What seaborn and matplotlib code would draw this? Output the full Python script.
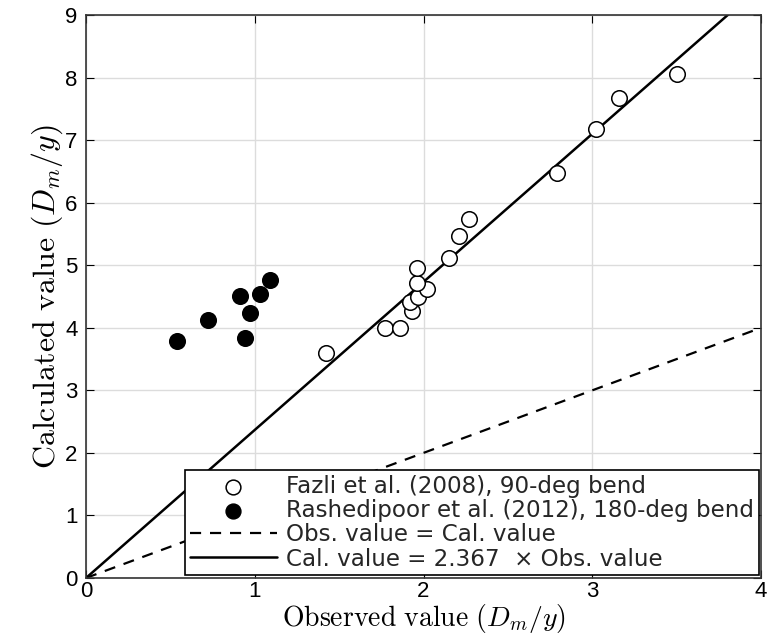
import numpy as np
import pandas as pd
import matplotlib
matplotlib.use("Agg")
import matplotlib.pyplot as plt
import seaborn as sns

# Observed vs calculated scour depth (D_m / y)
fazli_obs = [1.42, 1.77, 1.86, 1.93, 1.92, 1.97, 2.02, 1.96, 1.96, 2.15, 2.21, 2.27, 2.79, 3.02, 3.16, 3.50]
fazli_cal = [3.60, 4.00, 3.99, 4.27, 4.42, 4.49, 4.62, 4.72, 4.96, 5.12, 5.47, 5.74, 6.48, 7.18, 7.68, 8.06]
rashedi_obs = [0.54, 0.72, 0.94, 0.97, 0.91, 1.03, 1.09]
rashedi_cal = [3.79, 4.13, 3.83, 4.24, 4.50, 4.54, 4.77]
slope = 2.367
x_ticks = [0, 1, 2, 3, 4]
y_ticks = [0, 1, 2, 3, 4, 5, 6, 7, 8, 9]

label_fazli = "Fazli et al. (2008), 90-deg bend"
label_rashedi = "Rashedipoor et al. (2012), 180-deg bend"
label_equal = "Obs. value = Cal. value"
label_fit = "Cal. value = 2.367  \u00d7 Obs. value"

sns.set_theme(style="whitegrid")
plt.rcParams["font.family"] = ["Liberation Sans", "DejaVu Sans"]
plt.rcParams["mathtext.fontset"] = "cm"

fig = plt.figure(figsize=(7.68, 6.39), dpi=100)
ax = fig.add_axes([0.112, 0.0955, 0.879, 0.881])

df = pd.DataFrame({
    "obs": fazli_obs + rashedi_obs,
    "cal": fazli_cal + rashedi_cal,
    "source": [label_fazli] * len(fazli_obs) + [label_rashedi] * len(rashedi_obs),
})

sns.scatterplot(data=df[df.source == label_fazli], x="obs", y="cal", ax=ax,
                s=125, marker="o", facecolor="white", edgecolor="black",
                linewidth=1.1, label=label_fazli, zorder=3)
sns.scatterplot(data=df[df.source == label_rashedi], x="obs", y="cal", ax=ax,
                s=125, marker="o", color="black", edgecolor="black",
                linewidth=1.1, label=label_rashedi, zorder=3)

line_x = np.array([0.0, 4.0])
sns.lineplot(x=line_x, y=line_x, ax=ax, color="black", linestyle=(0, (5, 4)),
             linewidth=1.6, label=label_equal)
sns.lineplot(x=line_x, y=slope * line_x, ax=ax, color="black", linestyle="-",
             linewidth=1.8, label=label_fit)

ax.set_xlim(0, 4)
ax.set_ylim(0, 9)
ax.set_xticks(x_ticks)
ax.set_yticks(y_ticks)
ax.tick_params(axis="both", which="both", direction="in", length=6, width=0.8,
               labelsize=16, colors="black", top=True, right=True, pad=2,
               left=True, bottom=True)
ax.tick_params(axis="y", pad=6)
ax.grid(True, color="#dcdcdc", linewidth=1.0)
for sp in ax.spines.values():
    sp.set_visible(True)
    sp.set_color("#333333")
    sp.set_linewidth(1.2)

ax.set_xlabel(r"$\mathrm{Observed\ value}\ (D_m/y)$", fontsize=20, labelpad=0.5, color="black")
ax.set_ylabel(r"$\mathrm{Calculated\ value}\ (D_m/y)$", fontsize=23, labelpad=0, color="black")

leg = ax.legend(loc="lower right", bbox_to_anchor=(0.997, 0.005), borderaxespad=0,
                prop={"family": ["DejaVu Sans"], "size": 16.6},
                frameon=True, fancybox=False, framealpha=1,
                edgecolor="black", handlelength=3.8, borderpad=0.2,
                labelspacing=0.05, handletextpad=0.4, markerscale=0.95)
leg.get_frame().set_linewidth(1.2)

fig.savefig("out.png", dpi=100)
